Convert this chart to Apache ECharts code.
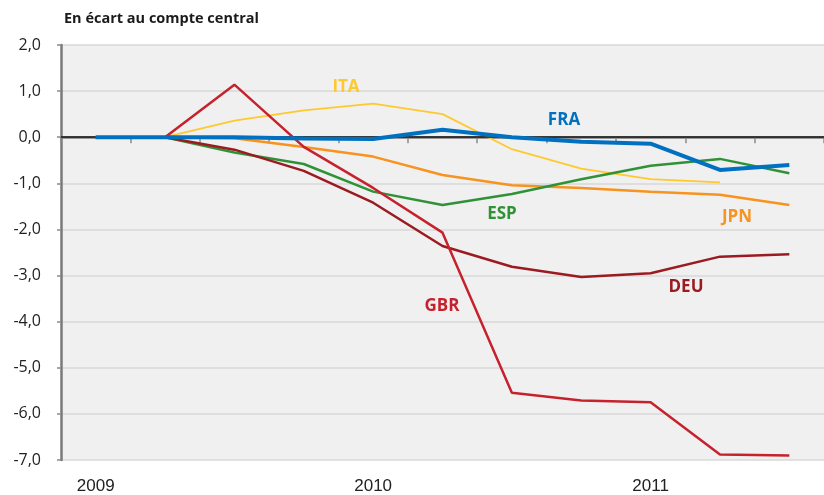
<!DOCTYPE html>
<html>
<head>
<meta charset="utf-8">
<script src="https://cdn.jsdelivr.net/npm/echarts@6/dist/echarts.min.js"></script>
<style>
html,body{margin:0;padding:0;background:#fff;}
#chart{width:824px;height:495px;}
</style>
</head>
<body>
<div id="chart"></div>
<script>
var quarters = ['2009 T1','2009 T2','2009 T3','2009 T4','2010 T1','2010 T2','2010 T3','2010 T4','2011 T1','2011 T2','2011 T3'];
var ita = [0, 0, 0.36, 0.58, 0.73, 0.50, -0.26, -0.68, -0.91, -0.98, null];
var jpn = [0, 0, -0.02, -0.21, -0.42, -0.82, -1.04, -1.10, -1.18, -1.25, -1.47];
var esp = [0, 0, -0.33, -0.58, -1.18, -1.47, -1.23, -0.91, -0.62, -0.47, -0.78];
var deu = [0, 0, -0.27, -0.73, -1.42, -2.36, -2.81, -3.03, -2.95, -2.59, -2.54];
var gbr = [0, 0, 1.14, -0.21, -1.10, -2.07, -5.54, -5.71, -5.75, -6.88, -6.90];
var fra = [0, 0, 0, -0.03, -0.04, 0.16, 0.0, -0.10, -0.14, -0.71, -0.60];

var chart = echarts.init(document.getElementById('chart'));
var font = '"Open Sans", sans-serif';

var mkLabel = function (txt, x, y, color) {
	return {
		type: 'text', x: x, y: y, z: 100,
		style: { text: txt, fill: color, font: 'bold 17px ' + font, align: 'center', verticalAlign: 'middle' }
	};
};

var line = function (name, data, color, width, z) {
	return {
		name: name, type: 'line', data: data, symbol: 'none', z: z,
		lineStyle: { color: color, width: width },
		itemStyle: { color: color }
	};
};

var option = {
	backgroundColor: '#fff',
	animation: false,
	title: {
		text: 'En écart au compte central',
		left: 59, top: 6,
		textStyle: { fontFamily: font, fontWeight: 'bold', fontSize: 14.5, color: '#1a1a1a' }
	},
	grid: {
		left: 61, right: 0, top: 45, bottom: 35,
		show: true, backgroundColor: '#f0f0f0', borderWidth: 0
	},
	xAxis: {
		type: 'category',
		boundaryGap: true,
		data: quarters,
		axisLine: { lineStyle: { color: '#7a7a7a', width: 2.5 } },
		axisTick: { show: true, interval: 0, length: 6, lineStyle: { color: '#8a8a8a', width: 1.5 } },
		axisLabel: {
			interval: 0, margin: 18,
			fontFamily: '"Liberation Sans Narrow", sans-serif', fontSize: 17, color: '#222',
			formatter: function (v) { return v.slice(-2) == 'T1' ? v.slice(0, 4) : ''; }
		},
		splitLine: { show: false }
	},
	yAxis: {
		type: 'value',
		min: -7, max: 2, interval: 1,
		axisLine: { show: true, lineStyle: { color: '#7a7a7a', width: 2.5 } },
		axisTick: { show: true, length: 4, lineStyle: { color: '#8a8a8a', width: 1.5 } },
		axisLabel: {
			margin: 20, fontFamily: font, fontSize: 16, color: '#222',
			formatter: function (v) { return v.toFixed(1).replace('.', ','); }
		},
		splitLine: { lineStyle: { color: '#d9d9d9', width: 1.5 } }
	},
	series: [
		{
			type: 'line', data: [], z: 1,
			markLine: {
				silent: true, symbol: 'none', label: { show: false },
				lineStyle: { color: '#1a1a1a', width: 1.5, type: 'solid' },
				data: [{ yAxis: 0 }]
			}
		},
		line('ITA', ita, '#ffc92e', 1.8, 2),
		line('JPN', jpn, '#f7931e', 2.5, 3),
		line('ESP', esp, '#2f9237', 2.5, 4),
		line('DEU', deu, '#9b1b20', 2.5, 5),
		line('GBR', gbr, '#c6222d', 2.5, 6),
		line('FRA', fra, '#0070c0', 4, 7)
	],
	graphic: [
		mkLabel('ITA', 346, 87, '#ffc92e'),
		mkLabel('FRA', 564, 120, '#0070c0'),
		mkLabel('ESP', 502, 214, '#2f9237'),
		mkLabel('JPN', 737, 217, '#f7931e'),
		mkLabel('GBR', 442, 306, '#c6222d'),
		mkLabel('DEU', 686, 287, '#9b1b20')
	]
};
chart.setOption(option);
</script>
</body>
</html>
